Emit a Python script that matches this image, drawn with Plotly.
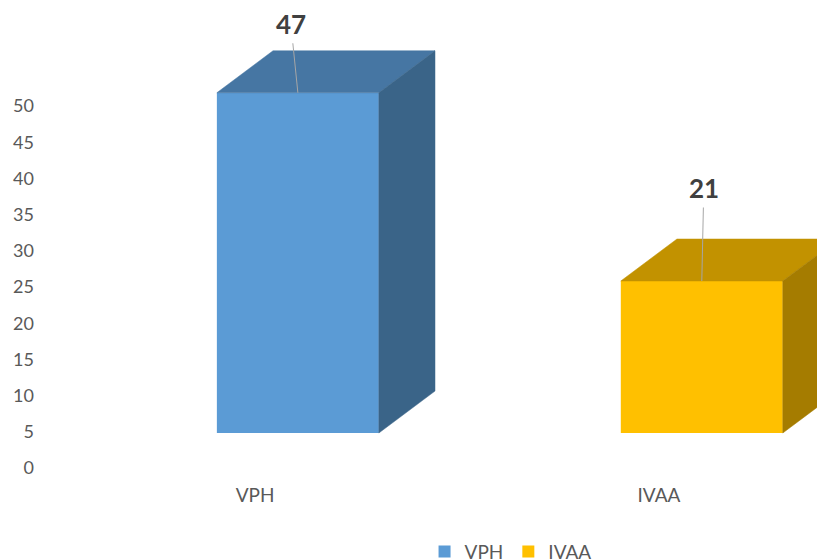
import plotly.graph_objects as go

# ---- data ----
CATEGORIES = ["VPH", "IVAA"]
VALUES = [47, 21]
Y_TICKS = [0, 5, 10, 15, 20, 25, 30, 35, 40, 45, 50]

# ---- style ----
FRONT_COLORS = ["#5B9BD5", "#FFC000"]
TOP_COLORS = ["#4676A3", "#C29200"]
SIDE_COLORS = ["#3A6488", "#A57C00"]
TEXT_GRAY = "#595959"
LABEL_COLOR = "#404040"
LEADER_COLOR = "#A6A6A6"
FONT = "Lato, 'Open Sans', sans-serif"

BAR_WIDTH = 0.401      # front face width (x units)
DEPTH_X = 0.139        # oblique depth, x units
DEPTH_Y = 5.8          # oblique depth, y units
FLOOR = 4.83           # front face base (y units)
TICK_SHIFT = -0.106    # category label offset (x units)
LABEL_OFFSETS = [(-7, -69), (2, -93)]  # data label offset in px

fig = go.Figure()

for i, (cat, v) in enumerate(zip(CATEGORIES, VALUES)):
    x0 = i - BAR_WIDTH / 2
    x1 = i + BAR_WIDTH / 2
    y0 = FLOOR
    y1 = FLOOR + v
    # front face
    fig.add_trace(go.Bar(
        x=[i], y=[v], base=[FLOOR], width=[BAR_WIDTH], name=cat,
        marker=dict(color=FRONT_COLORS[i], line=dict(width=0)),
        hoverinfo="skip",
    ))
    # top face
    fig.add_trace(go.Scatter(
        x=[x0, x1, x1 + DEPTH_X, x0 + DEPTH_X, x0],
        y=[y1, y1, y1 + DEPTH_Y, y1 + DEPTH_Y, y1],
        fill="toself", fillcolor=TOP_COLORS[i], mode="lines",
        line=dict(width=0.5, color=TOP_COLORS[i]),
        showlegend=False, hoverinfo="skip",
    ))
    # side face
    fig.add_trace(go.Scatter(
        x=[x1, x1 + DEPTH_X, x1 + DEPTH_X, x1, x1],
        y=[y0, y0 + DEPTH_Y, y1 + DEPTH_Y, y1, y0],
        fill="toself", fillcolor=SIDE_COLORS[i], mode="lines",
        line=dict(width=0.5, color=SIDE_COLORS[i]),
        showlegend=False, hoverinfo="skip",
    ))
    # data label with leader line
    ax, ay = LABEL_OFFSETS[i]
    fig.add_annotation(
        x=i, y=y1, xref="x", yref="y", text=f"<b>{v}</b>",
        showarrow=True, arrowhead=0, arrowwidth=1, arrowcolor=LEADER_COLOR,
        ax=ax, ay=ay, standoff=0, borderpad=3,
        font=dict(family=FONT, size=26, color=LABEL_COLOR),
    )

FIG_W, FIG_H = 817, 552
PLOT_BOTTOM = 460
PX_PER_UNIT = 7.24
y_max = PLOT_BOTTOM / PX_PER_UNIT

fig.update_layout(
    width=FIG_W, height=FIG_H,
    margin=dict(l=37, r=0, t=0, b=FIG_H - PLOT_BOTTOM, autoexpand=False),
    paper_bgcolor="white", plot_bgcolor="white",
    barmode="overlay",
    font=dict(family=FONT, color=TEXT_GRAY, size=18),
    showlegend=True,
    legend=dict(
        orientation="h", x=0.4866, xanchor="left", y=-0.182, yanchor="middle",
        font=dict(size=19, color=TEXT_GRAY), traceorder="normal",
    ),
    xaxis=dict(
        range=[-0.626, 1.305], showgrid=False, zeroline=False, showline=False,
        tickvals=[k + TICK_SHIFT for k in range(len(CATEGORIES))],
        ticktext=CATEGORIES, ticks="", tickfont=dict(size=19, color=TEXT_GRAY),
        ticklabelstandoff=14,
    ),
    yaxis=dict(
        range=[0, y_max], showgrid=False, zeroline=False, showline=False,
        tickvals=Y_TICKS, ticks="", tickfont=dict(size=18, color=TEXT_GRAY),
        ticklabelstandoff=10,
    ),
)

fig.write_html("out.html")
